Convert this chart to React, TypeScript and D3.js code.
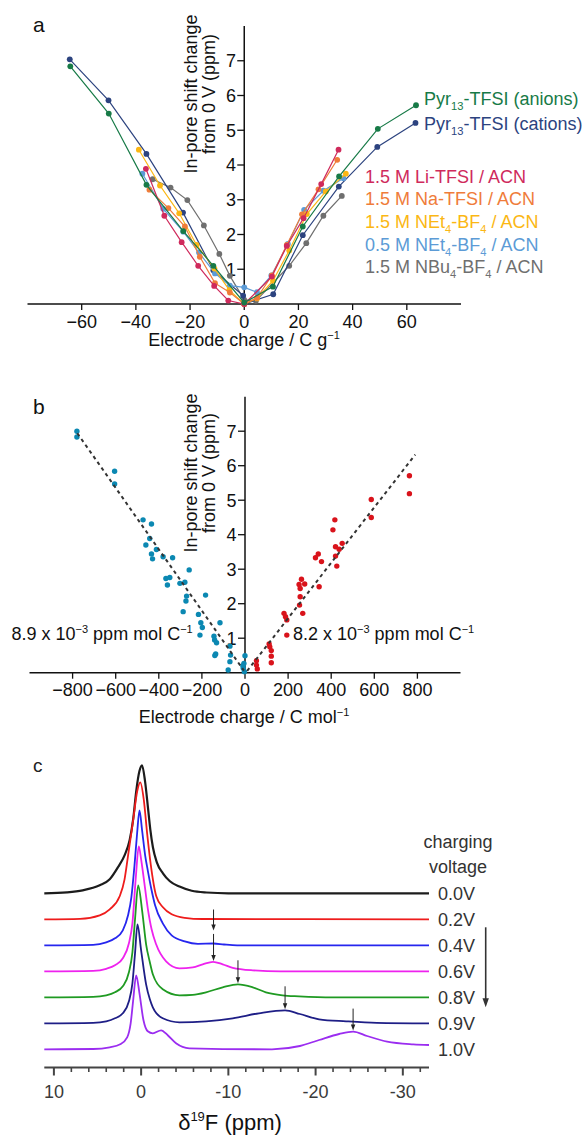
import React from "react";
import * as d3 from "d3";

const FONT = "'Liberation Sans', Arial, Helvetica, sans-serif";

// ================= Panel a : shift vs electrode charge (C g-1) =================
const aXTicks = [-60, -40, -20, 0, 20, 40, 60];
const aYTicks = [1, 2, 3, 4, 5, 6, 7];

const anionsX = [-64.2, -50.0, -36.1, -22.5, -11.4, 0, 10.6, 21.6, 35.0, 49.3, 63.4];
const anionsY = [6.84, 5.48, 3.43, 2.1, 1.1, 0.04, 0.5, 2.23, 3.67, 5.04, 5.72];
const cationsX = [-64.4, -50.1, -36.1, -22.6, -11.4, -0.4, 0, 10.7, 21.6, 34.9, 49.1, 63.2];
const cationsY = [7.04, 5.86, 4.32, 2.63, 0.97, 0.24, 0, 0.28, 1.98, 3.38, 4.52, 5.21];
const liX = [-36.3, -29.5, -23.1, -17.0, -11.1, -5.9, 0, 10.2, 15.7, 21.9, 28.4, 34.8];
const liY = [3.89, 2.54, 1.78, 1.1, 0.52, 0.1, 0, 0.79, 1.67, 2.47, 3.45, 4.44];
const naX = [-35.0, -28.0, -21.9, -16.4, -10.8, -5.3, 0, 4.7, 10.2, 15.7, 21.3, 27.4, 34.3];
const naY = [3.29, 2.76, 2.23, 1.36, 0.6, 0.33, 0, 0.18, 0.82, 1.7, 2.58, 3.3, 4.15];
const net4X = [-38.9, -31.1, -24.0, -17.6, -11.0, -5.5, 0, 4.7, 10.6, 16.6, 23.1, 30.1, 37.5];
const net4Y = [4.44, 3.41, 2.61, 1.7, 1.02, 0.4, 0, 0.16, 0.67, 1.54, 2.59, 3.24, 3.75];
const net4LowX = [-37.6, -29.9, -22.5, -16.7, -10.8, -5.3, 0, 4.7, 10.0, 16.1, 22.1, 29.2, 36.6];
const net4LowY = [3.75, 2.74, 2.08, 1.48, 0.88, 0.53, 0.48, 0.34, 0.82, 1.73, 2.71, 3.26, 3.62];
const nbu4X = [-33.8, -27.2, -21.0, -14.9, -9.2, -5.3, 0, 4.3, 16.6, 22.9, 29.2, 36.0];
const nbu4Y = [3.59, 3.35, 2.99, 2.26, 1.44, 0.81, 0.12, 0.09, 1.1, 1.75, 2.54, 3.11];

// legend labels: [text, isSubscript]
const legAnions: [string, boolean][] = [["Pyr", false], ["13", true], ["-TFSI (anions)", false]];
const legCations: [string, boolean][] = [["Pyr", false], ["13", true], ["-TFSI (cations)", false]];
const legLi: [string, boolean][] = [["1.5 M Li-TFSI / ACN", false]];
const legNa: [string, boolean][] = [["1.5 M Na-TFSI / ACN", false]];
const legNet4: [string, boolean][] = [["1.5 M NEt", false], ["4", true], ["-BF", false], ["4", true], [" / ACN", false]];
const legNet4Low: [string, boolean][] = [["0.5 M NEt", false], ["4", true], ["-BF", false], ["4", true], [" / ACN", false]];
const legNbu4: [string, boolean][] = [["1.5 M NBu", false], ["4", true], ["-BF", false], ["4", true], [" / ACN", false]];

// ================= Panel b : shift vs electrode charge (C mol-1) =================
const bXTicks = [-800, -600, -400, -200, 0, 200, 400, 600, 800];
const bYTicks = [1, 2, 3, 4, 5, 6, 7];

const anionPtsX = [-780, -780, -605, -605, -473, -434, -460, -442, -434, -429, -411, -380, -336, -367, -349, -360, -302, -279, -259, -271, -274, -287, -183, -216, -205, -198, -209, -144, -141, -116, -132, -136, -140, -70, -67, -70, -78, 0, -5, -8, -3, -10];
const anionPtsY = [7.0, 6.83, 5.84, 5.47, 4.43, 4.31, 3.7, 3.89, 3.44, 3.3, 3.57, 3.36, 3.33, 2.73, 2.76, 2.54, 2.59, 2.62, 2.98, 2.22, 2.08, 1.77, 2.25, 1.69, 1.45, 1.31, 1.09, 1.06, 0.95, 1.45, 0.87, 0.54, 0.5, 0.77, 0.51, 0.32, 0.08, 0.49, 0.27, 0.13, 0.03, 0.2];
const cationPtsX = [417, 408, 420, 437, 451, 420, 426, 327, 340, 355, 344, 251, 262, 277, 256, 256, 253, 268, 181, 188, 194, 194, 112, 115, 122, 122, 122, 53, 53, 57, 586, 586, 763, 763];
const cationPtsY = [4.43, 4.14, 3.65, 3.58, 3.75, 3.38, 3.09, 3.33, 3.44, 3.22, 2.49, 2.56, 2.71, 2.57, 2.44, 2.2, 1.96, 1.72, 1.72, 1.62, 1.53, 1.09, 0.83, 0.75, 0.64, 0.48, 0.29, 0.35, 0.22, 0.11, 5.02, 4.5, 5.71, 5.19];

// linear fits (endpoints of the dashed lines)
const fitAnionX = [-778, -5];
const fitAnionY = [6.94, 0.06];
const fitCationX = [10, 790];
const fitCationY = [0.05, 6.32];
const slopeAnionLabel = "8.9";
const slopeCationLabel = "8.2";

// ================= Panel c : 19F NMR spectra =================
const cVoltages = ["0.0V", "0.2V", "0.4V", "0.6V", "0.8V", "0.9V", "1.0V"];
const cMajorTicks = [10, 0, -10, -20, -30];
const cMinorTicks = [8, 6, 4, 2, -2, -4, -6, -8, -12, -14, -16, -18, -22, -24, -26, -28, -32];

const spec00ppm = [11.1, 8.5, 6.7, 4.75, 3.6, 2.66, 1.9, 1.32, 0.9, 0.55, 0.2, -0.1, -0.45, -0.78, -1.05, -1.35, -1.8, -2.5, -3.3, -4.4, -5.8, -7.5, -10, -33];
const spec00int = [0, 1, 3, 8, 14, 26, 38, 53, 75, 103, 122, 128, 112, 86, 64, 46, 31, 20, 12, 6.7, 2.5, 0.8, 0, 0];
const spec02ppm = [11.1, 7, 4.75, 3.6, 2.46, 1.9, 1.51, 0.9, 0.45, 0.1, -0.3, -0.7, -1.1, -1.74, -2.5, -3.5, -5.0, -7.0, -33];
const spec02int = [0, 0.5, 4, 10, 23, 40, 63, 100, 128, 137, 120, 85, 55, 23, 12, 5, 1.5, 0.3, 0];
const spec04ppm = [11.1, 5.5, 4.0, 3.0, 2.1, 1.5, 1.12, 0.76, 0.46, 0.19, -0.11, -0.46, -0.76, -1.2, -1.6, -2.48, -3.5, -5.0, -6.5, -8.3, -9.5, -11, -33];
const spec04int = [0, 0.5, 3, 7, 15, 30, 48, 80, 112, 135, 115, 90, 75, 55, 40, 22, 10, 4, 1.5, 1.8, 0.8, 0, 0];
const spec06ppm = [11.1, 5.5, 4.0, 3.0, 2.1, 1.4, 1.0, 0.6, 0.27, 0.0, -0.27, -0.76, -1.2, -1.72, -2.86, -4.39, -5.92, -7.06, -8.24, -9.35, -10.5, -12.8, -16, -33];
const spec06int = [0, 0.5, 2.5, 6, 13, 28, 48, 95, 125, 112, 95, 63, 42, 27, 10, 3, 4, 7, 9.5, 7, 3.5, 1, 0, 0];
const spec08ppm = [11.1, 5.5, 4.0, 3.0, 2.1, 1.4, 1.0, 0.7, 0.34, -0.11, -0.57, -1.0, -1.34, -2.48, -4.39, -5.92, -7.44, -9.35, -11.1, -12.8, -14.3, -16.2, -18.1, -22, -33];
const spec08int = [0, 0.5, 2, 5, 11, 25, 45, 78, 112, 87, 53, 35, 23, 8, 2, 2.5, 5, 10, 13, 10, 5, 2, 1, 0, 0];
const spec09ppm = [11.1, 5.5, 4.0, 3.0, 2.1, 1.4, 1.0, 0.7, 0.42, 0.0, -0.57, -1.0, -1.34, -2.48, -4.39, -7.44, -10.5, -13.5, -16.5, -18.2, -20.4, -23.5, -27, -33];
const spec09int = [0, 0.5, 2, 5, 10, 22, 40, 70, 99, 73, 39, 24, 16, 5, 1, 2, 5, 10, 13, 9.3, 4, 2, 0.5, 0];
const spec10ppm = [11.1, 5.5, 3.6, 2.4, 1.6, 1.2, 0.9, 0.57, 0.19, -0.27, -0.76, -1.34, -2.29, -3.05, -4.0, -5.53, -15, -18.2, -20.4, -22.7, -24.3, -25.9, -28.2, -31.2, -33];
const spec10int = [0, 0.3, 2, 5, 12, 26, 50, 74, 56, 29, 18, 16, 19, 14, 6, 1, 0, 3.3, 9.3, 15.3, 17.7, 13.3, 7.7, 5, 4.3];

// arrows marking the in-pore peak: [ppm, trace index, lift above trace (px), length (px)]
const cArrowPpm = [-8.3, -8.3, -11.1, -16.5, -24.3];
const cArrowTrace = [2, 3, 4, 5, 6];
const cArrowLift = [13, 1, 1, 1, 1];
const cArrowLen = [21, 27, 23, 23, 22];

const specPpm = [spec00ppm, spec02ppm, spec04ppm, spec06ppm, spec08ppm, spec09ppm, spec10ppm];
const specInt = [spec00int, spec02int, spec04int, spec06int, spec08int, spec09int, spec10int];
const specColors = ["#1c1c1c", "#ee1c1c", "#2626ee", "#ee22ee", "#1f9a22", "#1e1e86", "#9b2df0"];

function SubText({ x, y, segs, fill, size }: { x: number; y: number; segs: [string, boolean][]; fill: string; size: number }) {
  let prevSub = false;
  return (
    <text x={x} y={y} fill={fill} fontSize={size} fontFamily={FONT}>
      {segs.map(([t, s], i) => {
        let dy = 0;
        if (s && !prevSub) dy = 5;
        if (!s && prevSub) dy = -5;
        prevSub = s;
        return (
          <tspan key={i} dy={dy} fontSize={s ? size * 0.62 : size}>
            {t}
          </tspan>
        );
      })}
    </text>
  );
}

export default function App() {
  // ---------- panel a scales ----------
  const ax = d3.scaleLinear().domain([-80, 80]).range([27.5, 461]);
  const ay = d3.scaleLinear().domain([0, 8]).range([304, 26]);
  const aSeries = [
    { xs: nbu4X, ys: nbu4Y, color: "#6f6f6f" },
    { xs: cationsX, ys: cationsY, color: "#2c437f" },
    { xs: net4LowX, ys: net4LowY, color: "#5c9bd6" },
    { xs: net4X, ys: net4Y, color: "#fbb714" },
    { xs: naX, ys: naY, color: "#ef7c3a" },
    { xs: liX, ys: liY, color: "#cf2a5c" },
    { xs: anionsX, ys: anionsY, color: "#177a47" },
  ];
  const aLine = d3
    .line<[number, number]>()
    .x((d) => ax(d[0]))
    .y((d) => ay(d[1]));
  const aLegend = [
    { segs: legAnions, color: "#177a47", x: 424, y: 105 },
    { segs: legCations, color: "#2c437f", x: 424, y: 130 },
    { segs: legLi, color: "#cf2a5c", x: 365, y: 182.5 },
    { segs: legNa, color: "#ef7c3a", x: 365, y: 205 },
    { segs: legNet4, color: "#fbb714", x: 365, y: 227.5 },
    { segs: legNet4Low, color: "#5c9bd6", x: 365, y: 250.5 },
    { segs: legNbu4, color: "#6f6f6f", x: 365, y: 273 },
  ];

  // ---------- panel b scales ----------
  const bx = d3.scaleLinear().domain([-1000, 1000]).range([29.5, 460.5]);
  const by = d3.scaleLinear().domain([0, 8]).range([672.7, 396.7]);

  // ---------- panel c scales ----------
  const cx = d3.scaleLinear().domain([11.1, -33]).range([44.3, 429]);
  const cBase = d3.scalePoint<string>().domain(cVoltages).range([893.3, 1049.3]);
  const cInt = d3.scaleLinear().domain([0, 140]).range([0, 140]);
  const cAxisY = 1067.5;

  const specPath = (k: number) =>
    d3
      .line<number>()
      .x((_, i) => cx(specPpm[k][i]))
      .y((v) => (cBase(cVoltages[k]) as number) - cInt(v))
      .curve(d3.curveMonotoneX)(specInt[k]) as string;

  const interp = (k: number, ppm: number) => {
    const xs = specPpm[k];
    const ys = specInt[k];
    for (let i = 0; i < xs.length - 1; i++) {
      if (ppm <= xs[i] && ppm >= xs[i + 1]) {
        const t = (xs[i] - ppm) / (xs[i] - xs[i + 1]);
        return ys[i] + t * (ys[i + 1] - ys[i]);
      }
    }
    return 0;
  };

  const axisStroke = "#111";
  const tickFont = 18;

  return (
    <svg
      width={583}
      height={1135}
      viewBox="0 0 583 1135"
      style={{ position: "absolute", left: 0, top: 0, background: "#fff" }}
      fontFamily={FONT}
    >
      <rect x={0} y={0} width={583} height={1135} fill="#fff" />

      {/* ================= Panel a ================= */}
      <text x={33} y={32} fontSize={21} fill="#111">a</text>
      <line x1={ax(-80)} x2={ax(80)} y1={ay(0)} y2={ay(0)} stroke={axisStroke} strokeWidth={1.5} />
      <line x1={ax(0)} x2={ax(0)} y1={ay(0)} y2={ay(8)} stroke={axisStroke} strokeWidth={1.5} />
      {aXTicks.map((t) => (
        <g key={"axt" + t}>
          <line x1={ax(t)} x2={ax(t)} y1={ay(0)} y2={ay(0) + 6} stroke={axisStroke} strokeWidth={1.3} />
          <text x={ax(t)} y={328} fontSize={tickFont} textAnchor="middle" fill="#111">
            {t < 0 ? "\u2212" + Math.abs(t) : String(t)}
          </text>
        </g>
      ))}
      {aYTicks.map((t) => (
        <g key={"ayt" + t}>
          <line x1={ax(0) - 7} x2={ax(0)} y1={ay(t)} y2={ay(t)} stroke={axisStroke} strokeWidth={1.3} />
          <text x={236} y={ay(t) + 6.3} fontSize={tickFont} textAnchor="end" fill="#111">
            {t}
          </text>
        </g>
      ))}
      <text transform="translate(197,94) rotate(-90)" fontSize={18} textAnchor="middle" fill="#111">
        In-pore shift change
      </text>
      <text transform="translate(215,94) rotate(-90)" fontSize={18} textAnchor="middle" fill="#111">
        from 0 V (ppm)
      </text>
      <text x={244} y={346} fontSize={18} textAnchor="middle" fill="#111">
        Electrode charge / C g<tspan dy={-7} fontSize={11}>{"\u22121"}</tspan>
      </text>
      {aSeries.map((s, k) => {
        const pts = s.xs.map((x, i) => [x, s.ys[i]] as [number, number]);
        return (
          <g key={"as" + k}>
            <path d={aLine(pts) as string} fill="none" stroke={s.color} strokeWidth={1.2} />
            {pts.map((p, i) => (
              <circle key={i} cx={ax(p[0])} cy={ay(p[1])} r={2.9} fill={s.color} />
            ))}
          </g>
        );
      })}
      {aLegend.map((l, i) => (
        <SubText key={"leg" + i} x={l.x} y={l.y} segs={l.segs} fill={l.color} size={18} />
      ))}

      {/* ================= Panel b ================= */}
      <text x={33} y={414} fontSize={21} fill="#111">b</text>
      <line x1={bx(-1000)} x2={bx(1000)} y1={by(0)} y2={by(0)} stroke={axisStroke} strokeWidth={1.5} />
      <line x1={bx(0)} x2={bx(0)} y1={by(0)} y2={by(8)} stroke={axisStroke} strokeWidth={1.5} />
      {bXTicks.map((t) => (
        <g key={"bxt" + t}>
          <line x1={bx(t)} x2={bx(t)} y1={by(0)} y2={by(0) + 6} stroke={axisStroke} strokeWidth={1.3} />
          <text x={bx(t)} y={696} fontSize={tickFont} textAnchor="middle" fill="#111">
            {t < 0 ? "\u2212" + Math.abs(t) : String(t)}
          </text>
        </g>
      ))}
      {bYTicks.map((t) => (
        <g key={"byt" + t}>
          <line x1={bx(0) - 7} x2={bx(0)} y1={by(t)} y2={by(t)} stroke={axisStroke} strokeWidth={1.3} />
          <text x={236.5} y={by(t) + 6.3} fontSize={tickFont} textAnchor="end" fill="#111">
            {t}
          </text>
        </g>
      ))}
      <text transform="translate(197,473) rotate(-90)" fontSize={18} textAnchor="middle" fill="#111">
        In-pore shift change
      </text>
      <text transform="translate(215,473) rotate(-90)" fontSize={18} textAnchor="middle" fill="#111">
        from 0 V (ppm)
      </text>
      <text x={244} y={723} fontSize={18} textAnchor="middle" fill="#111">
        Electrode charge / C mol<tspan dy={-7} fontSize={11}>{"\u22121"}</tspan>
      </text>
      {anionPtsX.map((x, i) => (
        <circle key={"bp" + i} cx={bx(x)} cy={by(anionPtsY[i])} r={2.7} fill="#0b88b2" />
      ))}
      {cationPtsX.map((x, i) => (
        <circle key={"bc" + i} cx={bx(x)} cy={by(cationPtsY[i])} r={2.7} fill="#d9131b" />
      ))}
      <line
        x1={bx(fitAnionX[0])}
        y1={by(fitAnionY[0])}
        x2={bx(fitAnionX[1])}
        y2={by(fitAnionY[1])}
        stroke="#333"
        strokeWidth={2}
        strokeDasharray="3.5,3.5"
      />
      <line
        x1={bx(fitCationX[0])}
        y1={by(fitCationY[0])}
        x2={bx(fitCationX[1])}
        y2={by(fitCationY[1])}
        stroke="#333"
        strokeWidth={2}
        strokeDasharray="3.5,3.5"
      />
      <text x={11.5} y={640} fontSize={18} fill="#111">
        {slopeAnionLabel} x 10<tspan dy={-7} fontSize={11}>{"\u22123"}</tspan>
        <tspan dy={7}> ppm mol C</tspan>
        <tspan dy={-7} fontSize={11}>{"\u22121"}</tspan>
      </text>
      <text x={293} y={640} fontSize={18} fill="#111">
        {slopeCationLabel} x 10<tspan dy={-7} fontSize={11}>{"\u22123"}</tspan>
        <tspan dy={7}> ppm mol C</tspan>
        <tspan dy={-7} fontSize={11}>{"\u22121"}</tspan>
      </text>

      {/* ================= Panel c ================= */}
      <text x={33} y={772} fontSize={19} fill="#222">c</text>
      {specPpm.map((_, k) => (
        <path
          key={"sp" + k}
          d={specPath(k)}
          fill="none"
          stroke={specColors[k]}
          strokeWidth={k === 0 ? 2.2 : 1.8}
          strokeLinejoin="round"
        />
      ))}
      {cArrowPpm.map((p, i) => {
        const k = cArrowTrace[i];
        const tip = (cBase(cVoltages[k]) as number) - cInt(interp(k, p)) - cArrowLift[i];
        const x = cx(p);
        return (
          <g key={"arr" + i}>
            <line x1={x} x2={x} y1={tip - cArrowLen[i]} y2={tip - 5} stroke="#222" strokeWidth={1} />
            <path d={`M${x - 2.2},${tip - 6} L${x + 2.2},${tip - 6} L${x},${tip} Z`} fill="#222" />
          </g>
        );
      })}
      {cVoltages.map((v) => (
        <text key={"vl" + v} x={438} y={(cBase(v) as number) + 6.5} fontSize={18} fill="#333">
          {v}
        </text>
      ))}
      <text x={458} y={848} fontSize={18} textAnchor="middle" fill="#333">charging</text>
      <text x={458} y={873} fontSize={18} textAnchor="middle" fill="#333">voltage</text>
      {(() => {
        const y1 = (cBase("0.4V") as number) - 18;
        const y2 = (cBase("0.8V") as number) + 10;
        return (
          <g>
            <line x1={485.7} x2={485.7} y1={y1} y2={y2 - 8} stroke="#333" strokeWidth={1.6} />
            <path d={`M${485.7 - 3.2},${y2 - 9} L${485.7 + 3.2},${y2 - 9} L485.7,${y2} Z`} fill="#333" />
          </g>
        );
      })()}
      <line x1={cx(11.1)} x2={cx(-33)} y1={cAxisY} y2={cAxisY} stroke="#444" strokeWidth={2} />
      {cMajorTicks.map((t) => (
        <g key={"cmt" + t}>
          <line x1={cx(t)} x2={cx(t)} y1={cAxisY} y2={cAxisY + 8} stroke="#444" strokeWidth={2} />
          <text x={cx(t)} y={1098} fontSize={18} textAnchor="middle" fill="#3a3a3a">
            {t < 0 ? "-" + Math.abs(t) : String(t)}
          </text>
        </g>
      ))}
      {cMinorTicks.map((t) => (
        <line key={"cmn" + t} x1={cx(t)} x2={cx(t)} y1={cAxisY} y2={cAxisY + 4.5} stroke="#444" strokeWidth={1.6} />
      ))}
      <text x={230} y={1130} fontSize={22} textAnchor="middle" fill="#111">
        δ<tspan dy={-9} fontSize={13}>19</tspan>
        <tspan dy={9}>F (ppm)</tspan>
      </text>
    </svg>
  );
}
